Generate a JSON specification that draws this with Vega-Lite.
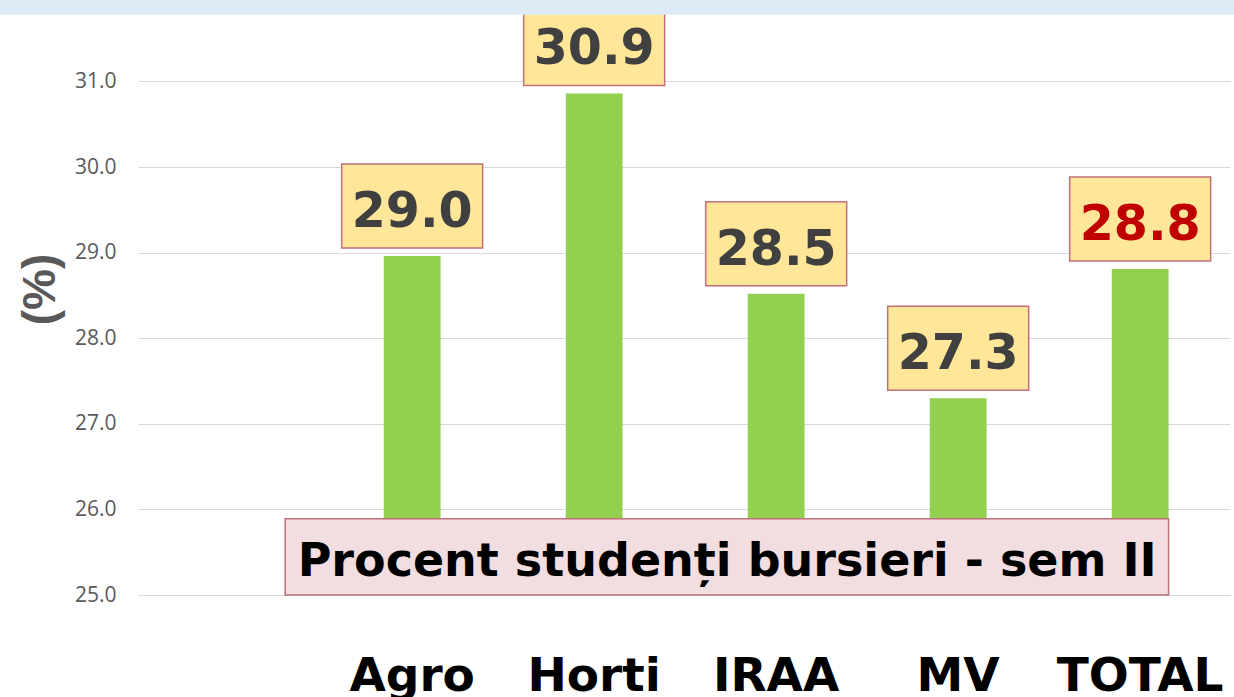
{
  "$schema": "https://vega.github.io/schema/vega-lite/v6.json",
  "width": 1092,
  "height": 595,
  "autosize": {"type": "none"},
  "padding": {"left": 138, "top": 0, "right": 4, "bottom": 102},
  "background": "white",
  "config": {"view": {"stroke": null}},
  "datasets": {
    "main": [
      {"cat": "Agro", "v": 28.96},
      {"cat": "Horti", "v": 30.86},
      {"cat": "IRAA", "v": 28.52},
      {"cat": "MV", "v": 27.30},
      {"cat": "TOTAL", "v": 28.81}
    ],
    "note": [{"note": "Procent studenți bursieri - sem II"}],
    "header": [{"part": "header band"}]
  },
  "layer": [
    {
      "data": {"name": "main"},
      "mark": {"type": "bar", "color": "#92D050"},
      "encoding": {
        "x": {
          "field": "cat", "type": "nominal", "sort": null,
          "scale": {"domain": ["Agro", "Horti", "IRAA", "MV", "TOTAL"], "paddingInner": 0.688, "paddingOuter": 0.844, "align": 0.8},
          "axis": {"title": null, "labelAngle": 0, "labelFont": "DejaVu Sans", "labelFontWeight": "bold", "labelFontSize": 47, "labelColor": "#000000", "labelPadding": 95, "labelBaseline": "alphabetic", "ticks": false, "tickSize": 0, "domain": false, "grid": false}
        },
        "y": {
          "field": "v", "type": "quantitative",
          "scale": {"domain": [25, 31.952], "nice": false, "zero": false},
          "axis": {"values": [25, 26, 27, 28, 29, 30, 31], "format": ".1f", "labelFont": "Open Sans", "labelFontSize": 21, "labelColor": "#595959", "labelPadding": 22, "ticks": false, "tickSize": 0, "domain": false, "grid": true, "gridColor": "#D9D9D9", "gridWidth": 1.2, "title": "(%)", "titleFont": "Liberation Sans", "titleFontSize": 46, "titleFontWeight": "bold", "titleColor": "#595959", "titlePadding": 10, "titleY": 289}
        },
        "y2": {"datum": 25}
      }
    },
    {
      "data": {"name": "note"},
      "mark": {"type": "rect", "fill": "#F2DDE1", "stroke": "#C0707A", "strokeWidth": 1.5, "xOffset": -98.6},
      "encoding": {
        "x": {"datum": "Agro", "type": "nominal", "bandPosition": 0},
        "x2": {"datum": "TOTAL", "bandPosition": 1},
        "y": {"datum": 25, "type": "quantitative"},
        "y2": {"datum": 25.89}
      }
    },
    {
      "data": {"name": "note"},
      "mark": {"type": "text", "font": "DejaVu Sans", "fontWeight": "bold", "fontSize": 46, "color": "#000000", "align": "center", "baseline": "alphabetic", "xOffset": -49, "yOffset": -19},
      "encoding": {
        "x": {"datum": "IRAA", "type": "nominal"},
        "y": {"datum": 25, "type": "quantitative"},
        "text": {"field": "note"}
      }
    },
    {
      "data": {"name": "main"},
      "mark": {"type": "bar", "width": 141, "fill": "#FFE699", "stroke": "#C0707A", "strokeWidth": 1.5, "yOffset": -92, "y2Offset": -8},
      "encoding": {
        "x": {"field": "cat", "type": "nominal", "sort": null},
        "y": {"field": "v", "type": "quantitative"},
        "y2": {"field": "v"}
      }
    },
    {
      "data": {"name": "main"},
      "mark": {"type": "text", "font": "DejaVu Sans", "fontWeight": "bold", "fontSize": 49, "align": "center", "baseline": "alphabetic", "yOffset": -29},
      "encoding": {
        "x": {"field": "cat", "type": "nominal", "sort": null},
        "y": {"field": "v", "type": "quantitative"},
        "text": {"field": "v", "type": "quantitative", "format": ".1f"},
        "color": {"condition": {"test": "datum.cat === 'TOTAL'", "value": "#C00000"}, "value": "#404040"}
      }
    },
    {
      "data": {"name": "header"},
      "mark": {"type": "rect", "fill": "#DDEBF7", "xOffset": -384, "x2Offset": 66},
      "encoding": {
        "x": {"datum": "Agro", "type": "nominal", "bandPosition": 0},
        "x2": {"datum": "TOTAL", "bandPosition": 1},
        "y": {"datum": 31.78, "type": "quantitative"},
        "y2": {"datum": 31.952}
      }
    }
  ]
}
